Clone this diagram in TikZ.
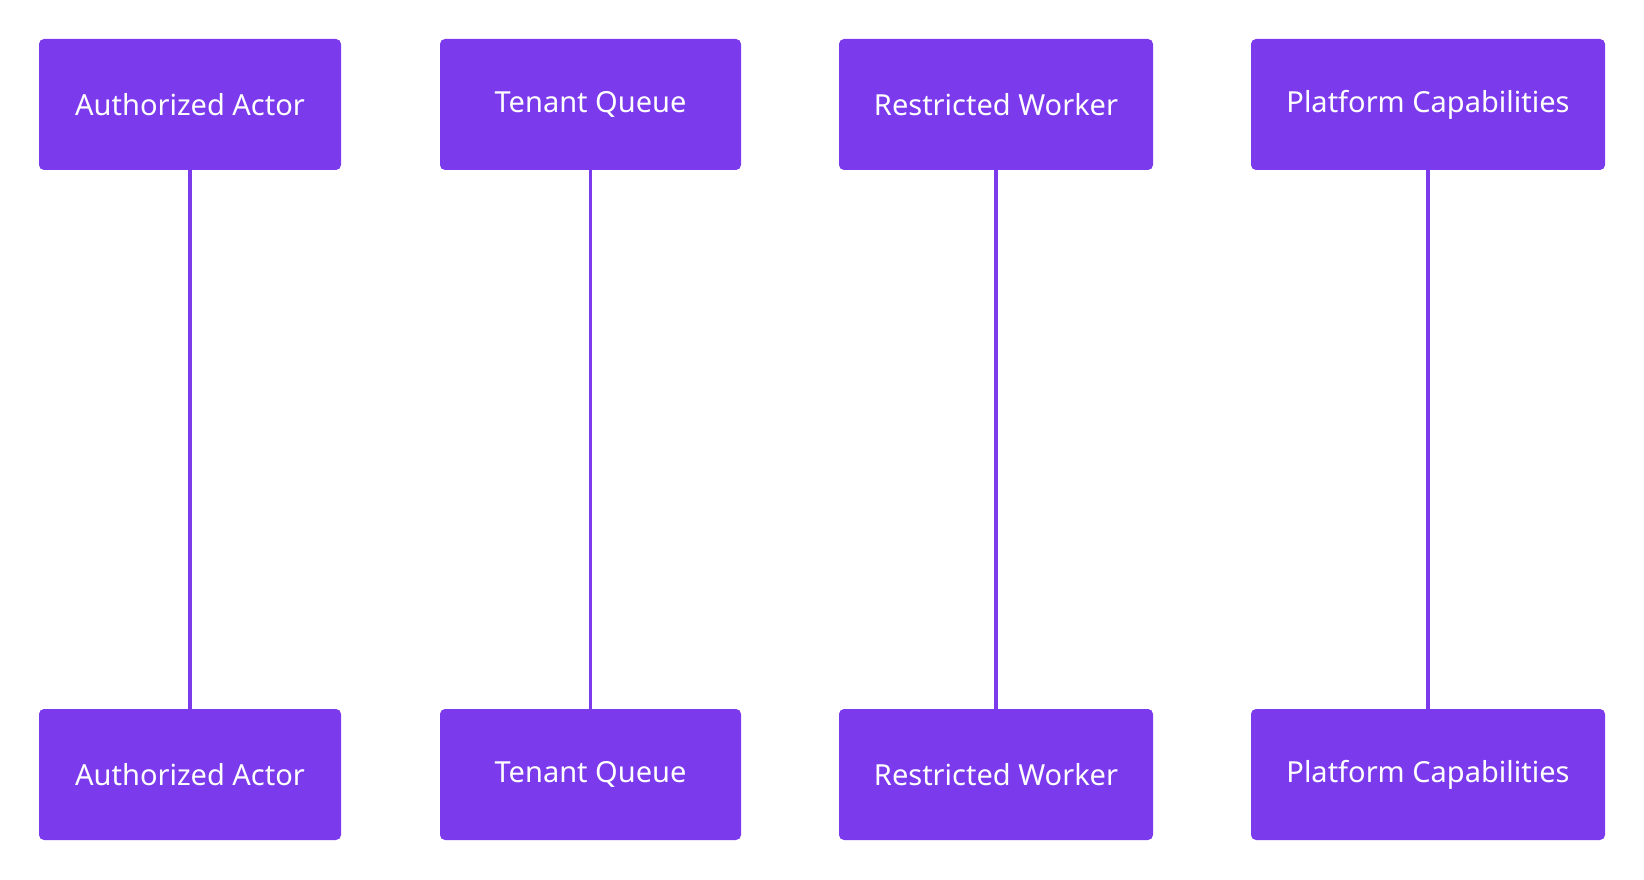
\documentclass[tikz,border=0pt]{standalone}
\usepackage{fontspec}
\setmainfont{Noto Sans}
\definecolor{vio}{HTML}{7C3AED}
\begin{document}
\begin{tikzpicture}[x=1pt,y=-1pt,
  box/.style={fill=vio,rounded corners=5pt,text=white,font=\fontsize{29}{34}\selectfont,inner sep=0pt},
  life/.style={draw=vio,line width=3.2pt}]
\useasboundingbox (0,0) rectangle (1644,880);
\foreach \n/\a/\b/\t in {a/39/341/Authorized Actor,b/440/741/Tenant Queue,c/839/1153/Restricted Worker,d/1251/1605/Platform Capabilities}{
  \path[box] (\a,39) rectangle (\b,170);
  \node[text=white,font=\fontsize{29}{34}\selectfont] (\n t) at ({(\a+\b)/2},104.5) {\t};
  \path[box] (\a,709) rectangle (\b,840);
  \node[text=white,font=\fontsize{29}{34}\selectfont] (\n b) at ({(\a+\b)/2},774.5) {\t};
  \coordinate (\n1) at ({(\a+\b)/2},170);
  \coordinate (\n2) at ({(\a+\b)/2},709);
  \draw[life] (\n1) -- (\n2);
}
\end{tikzpicture}
\end{document}
